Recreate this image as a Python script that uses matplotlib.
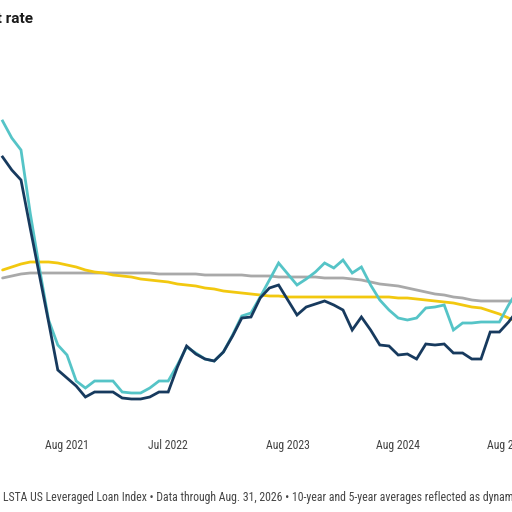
import matplotlib
matplotlib.use("Agg")
import matplotlib.pyplot as plt
from matplotlib import font_manager
import pandas as pd

# Monthly observations, Jan 2021 .. Sep 2025 (57 months)
months = pd.date_range("2021-01-01", periods=57, freq="MS")

rate_teal = [5.78, 5.44, 5.20, 3.94, 2.84, 1.80, 1.30,
             1.10, 0.58, 0.44, 0.58, 0.58, 0.58, 0.36, 0.34, 0.34, 0.44, 0.58, 0.58,
             0.90, 1.26, 1.14, 1.02, 0.98, 1.16, 1.50, 1.88, 1.94, 2.26, 2.60, 2.94,
             2.72, 2.50, 2.62, 2.76, 2.94, 2.84, 3.00, 2.74, 2.86, 2.50, 2.20, 2.00,
             1.84, 1.80, 1.84, 2.04, 2.06, 2.10, 1.60, 1.74, 1.74, 1.76, 1.76, 1.76,
             2.10, 2.40]

rate_dark = [5.06, 4.80, 4.60, 3.64, 2.70, 1.76, 0.80,
             0.64, 0.48, 0.26, 0.36, 0.36, 0.36, 0.24, 0.22, 0.22, 0.26, 0.36, 0.36,
             0.86, 1.28, 1.12, 1.02, 0.98, 1.16, 1.48, 1.84, 1.86, 2.24, 2.44, 2.50,
             2.20, 1.90, 2.06, 2.12, 2.18, 2.10, 2.00, 1.60, 1.86, 1.60, 1.30, 1.28,
             1.10, 1.12, 1.02, 1.32, 1.30, 1.32, 1.14, 1.14, 1.02, 1.02, 1.56, 1.56,
             1.76, 2.00]

avg_10yr = [2.64, 2.68, 2.72] + [2.74] * 14 + [2.72] * 5 + [2.70] * 5 + [2.68] * 3 + \
           [2.66] * 5 + [2.64] * 3 + [2.62, 2.60, 2.56, 2.52, 2.50, 2.48, 2.44, 2.40,
                                      2.36, 2.32, 2.30, 2.26, 2.24, 2.20] + [2.18] * 5

avg_5yr = [2.80, 2.86, 2.92, 2.96, 2.96, 2.96, 2.94, 2.90, 2.86, 2.80, 2.76, 2.74,
           2.70, 2.68, 2.66, 2.62, 2.60, 2.58, 2.56, 2.52, 2.50, 2.48, 2.44, 2.42,
           2.38, 2.36, 2.34, 2.32, 2.30, 2.28, 2.28] + [2.26] * 12 + \
          [2.24, 2.24, 2.22, 2.20, 2.18, 2.16, 2.14, 2.10, 2.06, 2.04, 1.98, 1.92,
           1.84, 1.76]

tick_months = ["2021-08-01", "2022-07-01", "2023-08-01", "2024-08-01", "2025-08-01"]
tick_labels = ["Aug 2021", "Jul 2022", "Aug 2023", "Aug 2024", "Aug 2025"]

title = "Default rate"
footer = ("LSTA US Leveraged Loan Index \u2022 Data through Aug. 31, 2026 \u2022 "
          "10-year and 5-year averages reflected as dynamic lines")

x = list(range(len(months)))
idx0 = list(months).index(pd.Timestamp("2021-08-01"))
tick_pos = [list(months).index(pd.Timestamp(t)) for t in tick_months]

installed = {f.name for f in font_manager.fontManager.ttflist}
narrow_pref = ["Roboto Condensed", "Liberation Sans Narrow", "Open Sans Condensed",
               "DejaVu Sans Condensed"]
narrow_found = [f for f in narrow_pref if f in installed]
if narrow_found:
    narrow = [narrow_found[0], "DejaVu Sans"]
    tick_fs, foot_fs = 8.5, 8.5
else:
    narrow = ["Roboto", "DejaVu Sans"]
    tick_fs, foot_fs = 8.0, 8.1

fig = plt.figure(figsize=(5.12, 5.12), dpi=100)
ax = fig.add_axes([0, 92 / 512, 1, 420 / 512])
ax.plot(x, avg_10yr, color="#a9a9a9", lw=2.0, solid_capstyle="round", zorder=2)
ax.plot(x, avg_5yr, color="#f2c80f", lw=2.0, solid_capstyle="round", zorder=3)
ax.plot(x, rate_teal, color="#55c4c7", lw=2.0, solid_joinstyle="miter", zorder=4)
ax.plot(x, rate_dark, color="#173a5e", lw=2.0, solid_joinstyle="miter", zorder=5)

ax.set_xlim(idx0 - 67 / 9.2, idx0 + (512 - 67) / 9.2)
ax.set_ylim(-0.2, 8.2)
for s in ax.spines.values():
    s.set_visible(False)
ax.set_yticks([])
ax.set_xticks(tick_pos)
ax.set_xticklabels(tick_labels, family=narrow, fontsize=tick_fs, color="#444444")
ax.tick_params(axis="x", length=0, pad=14)

fig.text(33 / 512, 1 - 19 / 512, title, ha="right", va="center",
         fontsize=11, fontweight="bold", color="#1a1a1a", family=["Roboto", "DejaVu Sans"])
fig.text(3 / 512, 1 - 497 / 512, footer, ha="left", va="center",
         fontsize=foot_fs, color="#444444", family=narrow)

fig.savefig("out.png", dpi=100)
